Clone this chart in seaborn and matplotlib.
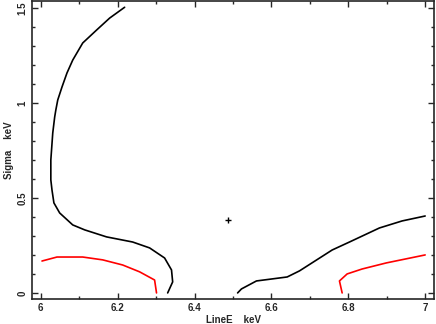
import matplotlib
matplotlib.use("Agg")
import matplotlib.pyplot as plt
import seaborn as sns
from matplotlib.ticker import MultipleLocator

sns.set_style("ticks")
plt.rcParams['font.family'] = ['Liberation Sans', 'DejaVu Sans']

# Black contour, left branch
black_left_x = [6.218, 6.179, 6.145, 6.109, 6.083, 6.068, 6.055, 6.044, 6.039, 6.036, 6.031,
                6.026, 6.026, 6.029, 6.034, 6.049, 6.083, 6.114, 6.171, 6.239, 6.283,
                6.322, 6.340, 6.343, 6.330]
black_left_y = [1.504, 1.447, 1.384, 1.316, 1.226, 1.158, 1.084, 1.016, 0.963, 0.926, 0.842,
                0.700, 0.595, 0.542, 0.474, 0.421, 0.358, 0.332, 0.295, 0.268, 0.237,
                0.184, 0.121, 0.058, 0.000]
# Black contour, right branch
black_right_x = [6.512, 6.522, 6.561, 6.603, 6.641, 6.673, 6.758, 6.803, 6.881, 6.940, 7.000]
black_right_y = [0.000, 0.021, 0.063, 0.074, 0.084, 0.116, 0.226, 0.268, 0.342, 0.379, 0.405]
# Red contour, left branch
red_left_x = [6.003, 6.042, 6.109, 6.161, 6.213, 6.257, 6.296, 6.301]
red_left_y = [0.168, 0.189, 0.189, 0.174, 0.147, 0.111, 0.068, 0.000]
# Red contour, right branch
red_right_x = [6.784, 6.777, 6.797, 6.836, 6.899, 7.000]
red_right_y = [0.000, 0.063, 0.100, 0.126, 0.158, 0.200]
# Best fit
best_x = [6.486]
best_y = [0.384]

fig = plt.figure(figsize=(4.36, 3.24), dpi=100)
ax = fig.add_axes([32/436, 25/324, 402/436, 298/324])

for xs, ys, c in [(black_left_x, black_left_y, 'black'),
                  (black_right_x, black_right_y, 'black'),
                  (red_left_x, red_left_y, 'red'),
                  (red_right_x, red_right_y, 'red')]:
    sns.lineplot(x=xs, y=ys, sort=False, estimator=None, color=c, lw=1.2, ax=ax)

sns.scatterplot(x=best_x, y=best_y, marker='+', s=25, color='black', linewidth=1.0, ax=ax)

ax.set_xlim(5.977, 7.023)
ax.set_ylim(-0.032, 1.537)
ax.xaxis.set_minor_locator(MultipleLocator(0.1))
ax.yaxis.set_minor_locator(MultipleLocator(0.1))
ax.set_xticks([6, 6.2, 6.4, 6.6, 6.8, 7])
ax.set_xticklabels(['6', '6.2', '6.4', '6.6', '6.8', '7'])
ax.set_yticks([0, 0.5, 1, 1.5])
ax.set_yticklabels(['0', '0.5', '1', '1.5'], rotation=90, va='center')

ax.tick_params(which='both', direction='in', top=True, right=True, width=1.0,
               labelsize=7, pad=3)
ax.tick_params(which='major', length=4)
ax.tick_params(which='minor', length=2.5)
for lab in ax.get_xticklabels() + ax.get_yticklabels():
    lab.set_fontweight('bold')
for s in ax.spines.values():
    s.set_linewidth(1.2)
    s.set_visible(True)

ax.set_xlabel('LineE    keV', fontsize=7, fontweight='bold', labelpad=1)
ax.set_ylabel('Sigma    keV', fontsize=7, fontweight='bold', labelpad=3)

fig.savefig('out.png', dpi=100)
